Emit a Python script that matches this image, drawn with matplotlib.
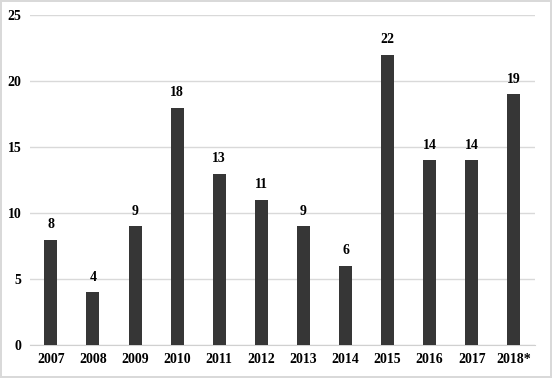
import numpy as np
import matplotlib.pyplot as plt

years = ['2007', '2008', '2009', '2010', '2011', '2012', '2013', '2014',
         '2015', '2016', '2017', '2018*']
counts = [8, 4, 9, 18, 13, 11, 9, 6, 22, 14, 14, 19]

plt.rcParams['font.family'] = ['Liberation Serif', 'DejaVu Serif']
plt.rcParams['font.weight'] = 'bold'
plt.rcParams['font.size'] = 10

fig = plt.figure(figsize=(5.52, 3.78), dpi=100, edgecolor='#d9d9d9', linewidth=1.5)
ax = fig.add_axes([0.054, 0.087, 0.915, 0.873])

x = np.arange(len(years))
ax.bar(x, counts, width=0.31, color='#363636', zorder=3)
for xi, v in zip(x, counts):
    ax.text(xi, v + 0.65, str(v), ha='center', va='bottom', fontweight='bold')

ax.set_xlim(-0.5, len(years) - 0.5)
ax.set_ylim(0, 25)
ax.set_yticks(range(0, 26, 5))
ax.set_xticks(x)
ax.set_xticklabels(years)
ax.grid(axis='y', color='#d9d9d9', linewidth=1, zorder=0)
for s in ['top', 'right', 'left']:
    ax.spines[s].set_visible(False)
ax.spines['bottom'].set_color('#d0d0d0')
ax.tick_params(length=0, pad=6)
ax.tick_params(axis='y', pad=6)

fig.savefig('out.png', dpi=100)
